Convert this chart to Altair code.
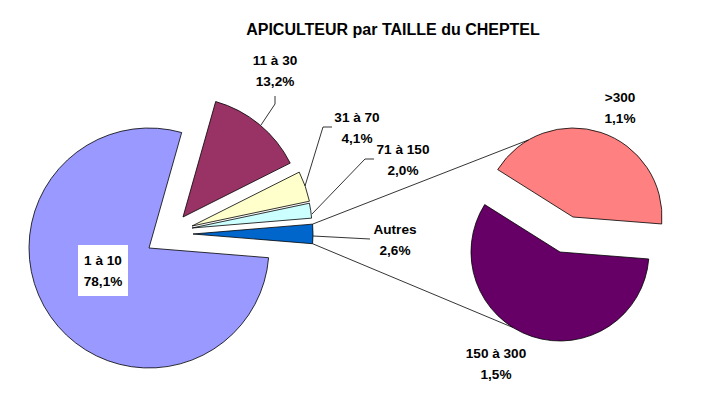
import altair as alt
import pandas as pd
import numpy as np

# ---------------- data ----------------
TITLE = "APICULTEUR par TAILLE du CHEPTEL"
main_labels = ["11 à 30", "31 à 70", "71 à 150", "Autres", "1 à  10"]
main_values = [13.2, 4.1, 2.0, 2.6, 78.1]
main_pct = ["13,2%", "4,1%", "2,0%", "2,6%", "78,1%"]
sec_labels = ["150 à 300", ">300"]
sec_values = [1.5, 1.1]
sec_pct = ["1,5%", "1,1%"]

# ---------------- style / layout ----------------
M = 8  # page margin
FONT = "Liberation Sans"
MAIN_CENTER = (149, 248)
MAIN_R = 120
MAIN_START = 15.8
SEC_CENTER = (560, 252)
SEC_R = 89
SEC_START = 94.5
COLORS = {
    "1 à  10": "#9999FF", "11 à 30": "#993366", "31 à 70": "#FFFFCC",
    "71 à 150": "#CCFFFF", "Autres": "#0066CC",
    "150 à 300": "#660066", ">300": "#FF8080",
}
EXPLODE = {
    "1 à  10": (0, 0), "11 à 30": (34, -31), "31 à 70": (43, -22),
    "71 à 150": (43, -20), "Autres": (44, -14),
    "150 à 300": (0, 0), ">300": (13, -35),
}
LABEL_POS = {
    "11 à 30": (275, 60), "31 à 70": (357, 117), "71 à 150": (403, 149),
    "Autres": (395, 229), "1 à  10": (103, 260),
    "150 à 300": (496, 353), ">300": (620, 97),
}
LINE_GAP = 20.5
TITLE_POS = (393, 29)
BOX = (78, 245, 128, 296)
LEADERS = [
    [(275, 96), (275, 104), (261, 125)],
    [(332, 127), (323, 127), (305, 186)],
    [(374, 159), (365, 159), (312, 214)],
    [(313, 236), (370, 239)],
]
CONNECT_ANGLES = {">300": 330, "150 à 300": 212}

# ---------------- build tables ----------------
arc_rows = []
def add_pie(labels, values, center, r, start):
    tot = sum(values)
    a = start
    for lab, v in zip(labels, values):
        span = v / tot * 360
        dx, dy = EXPLODE[lab]
        arc_rows.append(dict(label=lab, t0=np.radians(a), t1=np.radians(a + span),
                             cx=center[0] + dx - M, cy=center[1] + dy - M,
                             r=r, color=COLORS[lab], a0=a, a1=a + span))
        a += span

add_pie(main_labels, main_values, MAIN_CENTER, MAIN_R, MAIN_START)
add_pie(sec_labels, sec_values, SEC_CENTER, SEC_R, SEC_START)
arcs = pd.DataFrame(arc_rows)

def pt(row, ang):
    return (row["cx"] + row["r"] * np.sin(np.radians(ang)),
            row["cy"] - row["r"] * np.cos(np.radians(ang)))

seg_rows = []
for poly in LEADERS:
    for (x1, y1), (x2, y2) in zip(poly[:-1], poly[1:]):
        seg_rows.append(dict(x=x1 - M, y=y1 - M, x2=x2 - M, y2=y2 - M))
aut = arcs[arcs.label == "Autres"].iloc[0]
top = arcs[arcs.label == ">300"].iloc[0]
bot = arcs[arcs.label == "150 à 300"].iloc[0]
p1 = pt(aut, aut["a0"]); q1 = pt(top, CONNECT_ANGLES[">300"])
p2 = pt(aut, aut["a1"]); q2 = pt(bot, CONNECT_ANGLES["150 à 300"])
seg_rows.append(dict(x=p1[0], y=p1[1], x2=q1[0], y2=q1[1]))
seg_rows.append(dict(x=p2[0], y=p2[1], x2=q2[0], y2=q2[1]))
segs = pd.DataFrame(seg_rows)

text_rows = []
for lab, pc in list(zip(main_labels, main_pct)) + list(zip(sec_labels, sec_pct)):
    x, y = LABEL_POS[lab]
    text_rows.append(dict(t=lab, x=x - M, y=y - M + 1))
    text_rows.append(dict(t=pc, x=x - M, y=y - M + 1 + LINE_GAP))
texts = pd.DataFrame(text_rows)

box = pd.DataFrame([dict(x=BOX[0] - M, y=BOX[1] - M, x2=BOX[2] - M, y2=BOX[3] - M)])
title = pd.DataFrame([dict(t=TITLE, x=TITLE_POS[0] - M, y=TITLE_POS[1] - M + 1)])

X = lambda f: alt.X(f, type="quantitative", scale=None, axis=None)
Y = lambda f: alt.Y(f, type="quantitative", scale=None, axis=None)

pie = alt.Chart(arcs).mark_arc(stroke="black", strokeWidth=0.8).encode(
    x=X("cx"), y=Y("cy"),
    theta=alt.Theta("t0:Q", scale=None), theta2="t1:Q",
    radius=alt.Radius("r:Q", scale=None),
    color=alt.Color("color:N", scale=None),
)
lines = alt.Chart(segs).mark_rule(color="black", strokeWidth=0.8).encode(
    x=X("x"), y=Y("y"), x2="x2:Q", y2="y2:Q"
)
rect = alt.Chart(box).mark_rect(color="white").encode(
    x=X("x"), y=Y("y"), x2="x2:Q", y2="y2:Q"
)
labels = alt.Chart(texts).mark_text(
    font=FONT, fontSize=13.6, fontWeight="bold", color="black",
    align="center", baseline="middle"
).encode(x=X("x"), y=Y("y"), text="t:N")
ttl = alt.Chart(title).mark_text(
    font=FONT, fontSize=16, fontWeight="bold", color="black",
    align="center", baseline="middle"
).encode(x=X("x"), y=Y("y"), text="t:N")

chart = alt.layer(pie, lines, rect, labels, ttl).properties(
    width=680, height=385,
    autosize=alt.AutoSizeParams(type="none"),
    padding=0,
    background="white",
).configure_view(strokeWidth=0, stroke="transparent")

chart.save("out.html", embed_options={"renderer": "svg", "actions": False})
